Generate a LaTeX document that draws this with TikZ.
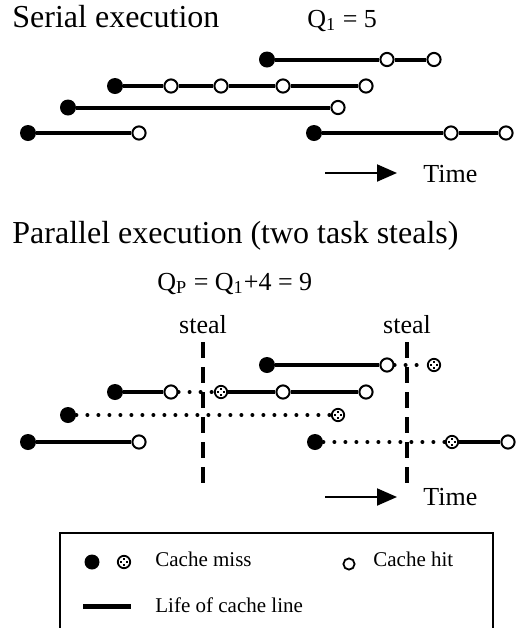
\documentclass[tikz,border=0pt]{standalone}
\usepackage{fontspec}
\setmainfont{Liberation Serif}
\usetikzlibrary{arrows}
\usetikzlibrary{arrows.meta}
\usetikzlibrary{shapes}
\usetikzlibrary{calc}
\usetikzlibrary{positioning}

\tikzset{
  miss/.style={circle, fill=black, inner sep=0pt, minimum size=8pt},
  hit/.style={circle, draw, fill=white, line width=1pt, inner sep=0pt, minimum size=6.6pt},
  stolen/.style={circle, draw, fill=white, line width=0.9pt, inner sep=0pt, minimum size=6.2pt,
    path picture={
      \foreach \dx/\dy in {0/1.5, 0/-1.5, 1.5/0, -1.5/0}
        \fill[black] ([shift={(\dx pt,\dy pt)}]path picture bounding box.center)
          +(-0.6pt,-0.6pt) rectangle +(0.6pt,0.6pt);
    }},
  life/.style={line width=2pt},
  idle/.style={line width=2pt, line cap=round, dash pattern=on 0pt off 5.5pt},
  stealline/.style={line width=1.6pt, dash pattern=on 8pt off 4.5pt},
  timearrow/.style={line width=1pt, -{Triangle[length=10pt,width=8.5pt]}},
  title/.style={anchor=base west, font=\fontsize{16}{19}\selectfont, inner sep=0pt},
  label/.style={font=\fontsize{13}{16}\selectfont, inner sep=0pt},
  legend/.style={anchor=base west, font=\fontsize{10.5}{13}\selectfont, inner sep=0pt}
}

\begin{document}
\begin{tikzpicture}[x=0.5pt, y=-0.5pt, >=latex]
\useasboundingbox (0,0) rectangle (524,628);
\clip (0,0) rectangle (524,628);

%Serial
\begin{scope}
  \node[title] (sertitle) at (12,27) {Serial execution};
  \node[label, anchor=base west] (q1) at (307,27) {Q\textsubscript{1} = 5};

  \node[miss] (s1a) at (267,59.5) {};
  \node[hit]  (s1b) at (387,59.5) {};
  \node[hit]  (s1c) at (434,59.5) {};

  \node[miss] (s2a) at (115,86) {};
  \node[hit]  (s2b) at (171,86) {};
  \node[hit]  (s2c) at (221,86) {};
  \node[hit]  (s2d) at (283,86) {};
  \node[hit]  (s2e) at (366,86) {};

  \node[miss] (s3a) at (68,107.5) {};
  \node[hit]  (s3b) at (338,107.5) {};

  \node[miss] (s4a) at (28,133) {};
  \node[hit]  (s4b) at (139,133) {};
  \node[miss] (s4c) at (314,133) {};
  \node[hit]  (s4d) at (451,133) {};
  \node[hit]  (s4e) at (506,133) {};

  \foreach \a/\b in {s1a/s1b, s1b/s1c, s2a/s2b, s2b/s2c, s2c/s2d, s2d/s2e,
                     s3a/s3b, s4a/s4b, s4c/s4d, s4d/s4e}
    \draw[life] (\a) -- (\b);

  \coordinate (t1a) at (325,173);
  \coordinate (t1b) at (397,173);
  \draw[timearrow] (t1a) -- (t1b);
  \node[label, anchor=base west] (time1) at (423,182) {Time};
\end{scope}

%Parallel
\begin{scope}
  \node[title] (partitle) at (12,243) {Parallel execution (two task steals)};
  \node[label, anchor=base west] (qp) at (157,290) {Q\textsubscript{P} = Q\textsubscript{1}+4 = 9};

  \node[label, anchor=base] (steal1) at (203,333) {steal};
  \node[label, anchor=base] (steal2) at (407,333) {steal};

  \node[miss]   (p1a) at (267,365) {};
  \node[hit]    (p1b) at (387,365) {};
  \node[stolen] (p1c) at (434,365) {};

  \node[miss]   (p2a) at (115,392) {};
  \node[hit]    (p2b) at (171,392) {};
  \node[stolen] (p2c) at (221,392) {};
  \node[hit]    (p2d) at (283,392) {};
  \node[hit]    (p2e) at (366,392) {};

  \node[miss]   (p3a) at (68,415) {};
  \node[stolen] (p3b) at (338,415) {};

  \node[miss]   (p4a) at (28,442) {};
  \node[hit]    (p4b) at (139,442) {};
  \node[miss]   (p4c) at (315,442) {};
  \node[stolen] (p4d) at (452,442) {};
  \node[hit]    (p4e) at (508,442) {};

  \foreach \a/\b in {p1a/p1b, p2a/p2b, p2c/p2d, p2d/p2e, p4a/p4b, p4d/p4e}
    \draw[life] (\a) -- (\b);
  \foreach \a/\b in {p1b/p1c, p2b/p2c, p3a/p3b, p4c/p4d}
    \draw[idle] (\a) -- (\b);

  \coordinate (st1end) at (203,485);
  \coordinate (st2end) at (407,483);
  \draw[stealline] ($(steal1.base)+(0,9)$) -- (st1end);
  \draw[stealline] ($(steal2.base)+(0,9)$) -- (st2end);

  \coordinate (t2a) at (325,497);
  \coordinate (t2b) at (397,497);
  \draw[timearrow] (t2a) -- (t2b);
  \node[label, anchor=base west] (time2) at (423,505) {Time};
\end{scope}

%Legend
\begin{scope}
  \draw[line width=1pt] (60,533) rectangle (493,650);
  \node[miss, minimum size=7.5pt] (lmiss) at (92,562) {};
  \node[stolen] (lstolen) at (124,562) {};
  \node[legend] (lmisstext) at (155,566) {Cache miss};
  \node[hit, line width=0.9pt, minimum size=5.6pt] (lhit) at (349,564) {};
  \node[legend] (lhittext) at (373,566) {Cache hit};
  \coordinate (llife1) at (83,606);
  \coordinate (llife2) at (131,606);
  \draw[line width=2.5pt] (llife1) -- (llife2);
  \node[legend] (llifetext) at (155,612) {Life of cache line};
\end{scope}
\end{tikzpicture}
\end{document}
